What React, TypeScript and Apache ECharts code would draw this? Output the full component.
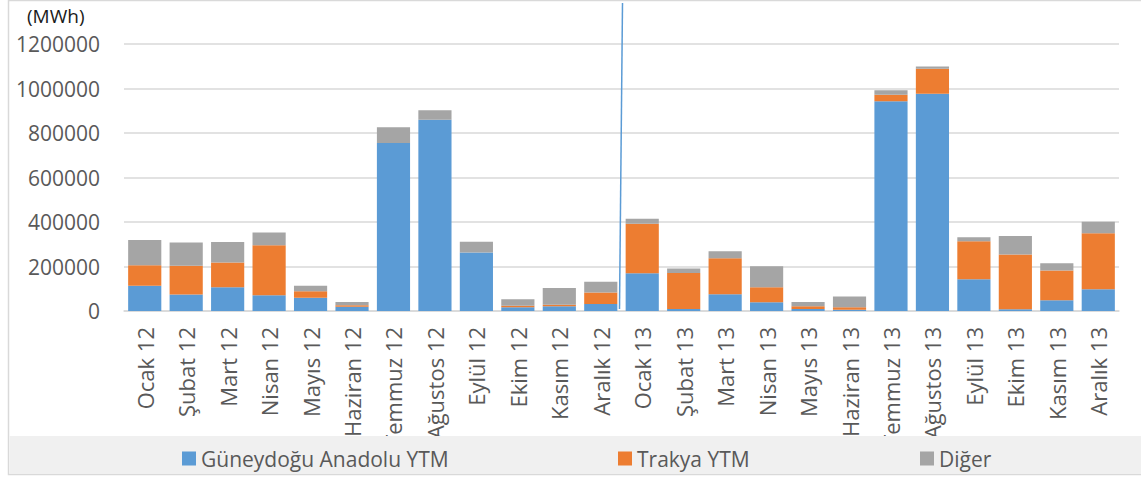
import React, { useEffect, useRef } from "react";
import * as echarts from "echarts";

const categories = [
  "Ocak 12", "Şubat 12", "Mart 12", "Nisan 12", "Mayıs 12", "Haziran 12",
  "Temmuz 12", "Ağustos 12", "Eylül 12", "Ekim 12", "Kasım 12", "Aralık 12",
  "Ocak 13", "Şubat 13", "Mart 13", "Nisan 13", "Mayıs 13", "Haziran 13",
  "Temmuz 13", "Ağustos 13", "Eylül 13", "Ekim 13", "Kasım 13", "Aralık 13",
];

const guneydogu = [
  113000, 74000, 107000, 71000, 60000, 19500, 755000, 859000, 263000, 16500, 21000, 31600,
  170000, 9000, 75000, 39000, 9000, 6000, 943000, 976000, 143000, 7500, 48000, 98000,
];
const trakya = [
  93000, 129000, 111000, 225000, 28700, 6000, 0, 0, 0, 7500, 7500, 52000,
  222500, 162000, 162600, 68000, 12000, 10500, 28600, 113000, 170000, 246500, 134000, 251000,
];
const diger = [
  113000, 105000, 92000, 57000, 24300, 15000, 71000, 43000, 48000, 28600, 75400, 48000,
  22500, 20000, 31400, 94500, 19600, 48200, 21000, 10000, 19000, 83000, 33000, 52600,
];

const seriesNames = ["Güneydoğu Anadolu YTM", "Trakya YTM", "Diğer"];
const yTicks = { min: 0, max: 1200000, interval: 200000 };

const FONT = "'Open Sans', sans-serif";
const GREY_TEXT = "#595959";

export default function App() {
  const ref = useRef<HTMLDivElement>(null);
  useEffect(() => {
    if (!ref.current) return;
    const chart = echarts.init(ref.current, null, { renderer: "svg" });
    const legendCommon = {
      orient: "horizontal",
      itemWidth: 14,
      itemHeight: 14,
      icon: "rect",
      z: 200,
      textStyle: { color: GREY_TEXT, fontSize: 21, fontFamily: FONT },
      selectedMode: false,
    };
    chart.setOption({
      animation: false,
      color: ["#5B9BD5", "#ED7D31", "#A5A5A5"],
      textStyle: { fontFamily: FONT },
      grid: { left: 124, right: 22, top: 44, bottom: 166, containLabel: false },
      legend: [
        { ...legendCommon, left: 177, top: 443, data: [seriesNames[0]] },
        { ...legendCommon, left: 613, top: 443, data: [seriesNames[1]] },
        { ...legendCommon, left: 915, top: 443, data: [seriesNames[2]] },
      ],
      xAxis: {
        type: "category",
        data: categories,
        axisLine: { lineStyle: { color: "#D9D9D9", width: 1.5 } },
        axisTick: { show: false },
        axisLabel: {
          rotate: 90,
          interval: 0,
          margin: 16,
          color: GREY_TEXT,
          fontSize: 22,
          fontFamily: FONT,
        },
      },
      yAxis: {
        type: "value",
        min: yTicks.min,
        max: yTicks.max,
        interval: yTicks.interval,
        axisLine: { show: false },
        axisTick: { show: false },
        splitLine: { lineStyle: { color: "#D9D9D9", width: 1.5 } },
        axisLabel: {
          margin: 24,
          color: GREY_TEXT,
          fontSize: 21,
          fontFamily: FONT,
          formatter: (v: number) => String(v),
        },
      },
      graphic: [
        {
          type: "rect",
          z: 1,
          shape: { x: 8.5, y: 0.5, width: 1140, height: 474 },
          style: { fill: "none", stroke: "#D9D9D9", lineWidth: 1.5 },
          silent: true,
        },
        {
          type: "rect",
          z: 100,
          shape: { x: 9.5, y: 436, width: 1132, height: 38 },
          style: { fill: "#F0F0F0" },
          silent: true,
        },
        {
          type: "text",
          z: 100,
          left: 27,
          top: 6,
          style: { text: "(MWh)", fill: "#1a1a1a", fontSize: 19, fontFamily: FONT },
        },
        {
          type: "line",
          z: 100,
          shape: { x1: 622.5, y1: 3, x2: 619.5, y2: 309 },
          style: { stroke: "#5B9BD5", lineWidth: 1.5 },
          silent: true,
        },
      ],
      series: [
        { name: seriesNames[0], type: "bar", stack: "t", data: guneydogu, barCategoryGap: "20%" },
        { name: seriesNames[1], type: "bar", stack: "t", data: trakya, barCategoryGap: "20%" },
        { name: seriesNames[2], type: "bar", stack: "t", data: diger, barCategoryGap: "20%" },
      ],
    });
    return () => chart.dispose();
  }, []);
  return (
    <div
      ref={ref}
      style={{ position: "fixed", left: 0, top: 0, width: 1141, height: 477, background: "#fff" }}
    />
  );
}
